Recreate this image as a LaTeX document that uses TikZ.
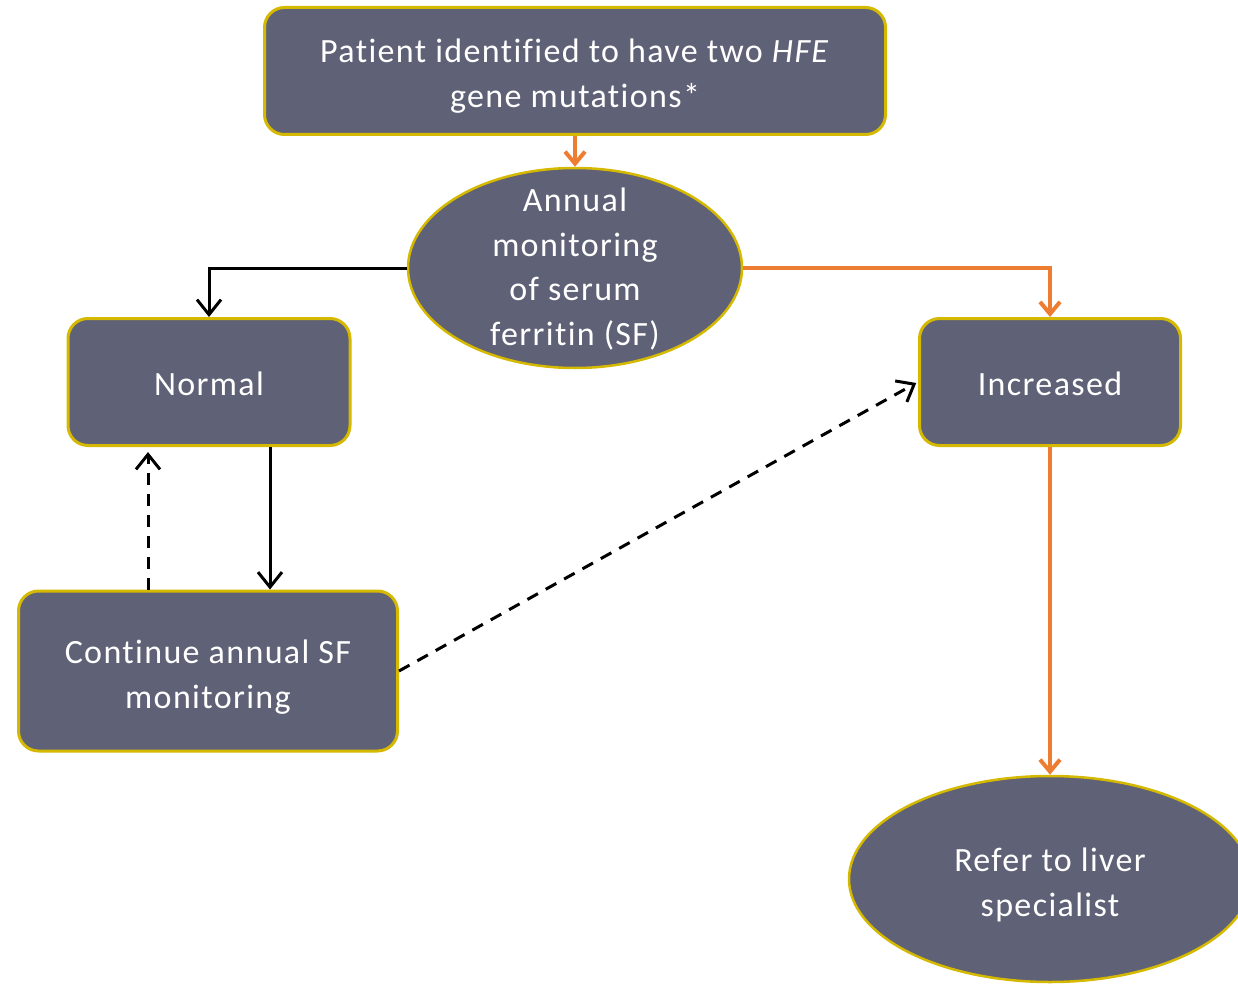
\documentclass[tikz,border=0pt]{standalone}
\usepackage{fontspec}
\setmainfont{Carlito}[LetterSpace=4, Ligatures=NoCommon]
\usetikzlibrary{shapes.geometric,arrows.meta}
\definecolor{slate}{HTML}{5F6176}
\definecolor{gold}{HTML}{D4B900}
\definecolor{flow}{HTML}{ED7D31}
% lower a line of text without changing its size
\newcommand{\dropline}[2]{\raisebox{-#1}[\height][\depth]{#2}}
\begin{document}
\begin{tikzpicture}[x=1pt, y=-1pt,
    procbox/.style={rectangle, rounded corners=20pt, draw=gold, line width=3pt, fill=slate,
        text=white, align=center, inner sep=0pt},
    ovalnode/.style={ellipse, draw=gold, line width=2.5pt, fill=slate, inner sep=0pt},
    ovaltext/.style={text=white, align=center, inner sep=0pt},
    every node/.style={font=\fontsize{34}{45}\selectfont},
    blackline/.style={line width=3pt, -{Straight Barb[length=15pt, width=24pt, line width=3pt]}},
    dashline/.style={blackline, dash pattern=on 12pt off 9pt},
    orangeline/.style={draw=flow, line width=4pt, -{Straight Barb[length=12pt, width=20pt, line width=4pt]}}]
\useasboundingbox (0,0) rectangle (1238,984);
% boxes
\node[procbox, minimum width=621pt, minimum height=127pt] (patient) at (575,71)
    {\dropline{5pt}{Patient identified to have two \textit{HFE}}\\\dropline{5pt}{gene mutations*}};
\node[ovalnode, minimum width=334pt, minimum height=200pt] (annual) at (575,268) {};
\node[ovaltext, yshift=-1pt, font=\fontsize{34}{44.5}\selectfont] at (annual)
    {Annual\\monitoring\\of serum\\ferritin (SF)};
\node[procbox, minimum width=282pt, minimum height=127pt] (normal) at (209,382) {\dropline{2pt}{Normal}};
\node[procbox, minimum width=261pt, minimum height=127pt] (increased) at (1050,382) {\dropline{2pt}{Increased}};
\node[procbox, minimum width=379pt, minimum height=160pt] (continue) at (208,671)
    {\dropline{6pt}{Continue annual SF}\\\dropline{6pt}{monitoring}};
\node[ovalnode, minimum width=402pt, minimum height=206pt] (refer) at (1050,879) {};
\node[ovaltext, yshift=-6pt] at (refer) {Refer to liver\\specialist};
% arrows
\draw[orangeline] (patient) -- (annual);
\draw[blackline] (annual.west) -| (normal.north);
\draw[orangeline] (annual.east) -| (increased.north);
\draw[blackline] ([xshift=61pt]normal.south) -- ([xshift=61pt]normal.south |- continue.north);
\draw[dashline, shorten >=5pt] ([xshift=-60pt]continue.north) -- ([xshift=-60pt]continue.north |- normal.south);
\draw[dashline, shorten >=2pt] (continue.east) -- (increased.west);
\draw[orangeline] (increased) -- (refer);
\end{tikzpicture}
\end{document}
